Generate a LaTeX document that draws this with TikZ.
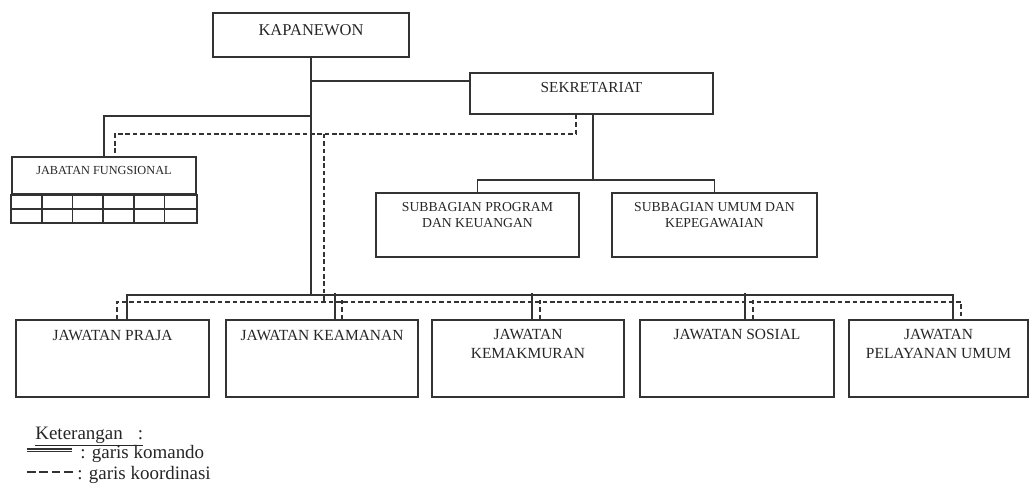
\documentclass[tikz,border=0pt]{standalone}
\usepackage{fontspec}
\setmainfont{Liberation Serif}
\usetikzlibrary{positioning}

\begin{document}
\begin{tikzpicture}
\tikzset{kotak/.style={draw=black!80, line width=1pt, inner sep=0pt},
  judul/.style={align=center, inner sep=0pt, text=black!85},
  komando/.style={draw=black!80, line width=1pt},
  koordinasi/.style={draw=black!80, line width=0.9pt, dash pattern=on 2.6pt off 1.6pt},
  ket/.style={anchor=base west, inner sep=0pt, text=black!85, font=\fontsize{10.8}{13}\selectfont}}
\useasboundingbox (0,0) rectangle (20.62,-9.68);
% kotak
\node[kotak, minimum width=3.92cm, minimum height=0.88cm] (kap) at (6.22,-0.70) {};
\node[kotak, minimum width=4.86cm, minimum height=0.82cm] (sek) at (11.83,-1.87) {};
\node[kotak, minimum width=3.68cm, minimum height=0.74cm] (jab) at (2.08,-3.51) {};
\node[kotak, minimum width=4.06cm, minimum height=1.28cm] (prog) at (9.55,-4.50) {};
\node[kotak, minimum width=4.10cm, minimum height=1.28cm] (umum) at (14.29,-4.50) {};
\node[kotak, minimum width=3.86cm, minimum height=1.54cm] (praja) at (2.25,-7.17) {};
\node[kotak, minimum width=3.84cm, minimum height=1.54cm] (keam) at (6.44,-7.17) {};
\node[kotak, minimum width=3.84cm, minimum height=1.54cm] (kemak) at (10.56,-7.17) {};
\node[kotak, minimum width=3.88cm, minimum height=1.54cm] (sosial) at (14.74,-7.17) {};
\node[kotak, minimum width=3.58cm, minimum height=1.54cm] (pelay) at (18.77,-7.17) {};
% tulisan
\node[judul, font=\fontsize{9.4}{11}\selectfont, below=0.24cm of kap.north] (kapT) {KAPANEWON};
\node[judul, font=\fontsize{8.7}{10.5}\selectfont, below=0.2cm of sek.north] (sekT) {SEKRETARIAT};
\node[judul, font=\fontsize{7}{8.4}\selectfont, below=0.2cm of jab.north] (jabT) {JABATAN FUNGSIONAL};
\node[judul, font=\fontsize{7.8}{9.1}\selectfont, below=0.2cm of prog.north] (progT) {SUBBAGIAN PROGRAM\\DAN KEUANGAN};
\node[judul, font=\fontsize{7.8}{9.1}\selectfont, below=0.2cm of umum.north] (umumT) {SUBBAGIAN UMUM DAN\\KEPEGAWAIAN};
\node[judul, font=\fontsize{8.8}{10.8}\selectfont, below=0.22cm of praja.north] (prajaT) {JAWATAN PRAJA};
\node[judul, font=\fontsize{8.8}{10.8}\selectfont, below=0.22cm of keam.north] (keamT) {JAWATAN KEAMANAN};
\node[judul, font=\fontsize{8.8}{10.8}\selectfont, below=0.2cm of kemak.north] (kemakT) {JAWATAN\\KEMAKMURAN};
\node[judul, font=\fontsize{8.8}{10.8}\selectfont, below=0.2cm of sosial.north] (sosialT) {JAWATAN SOSIAL};
\node[judul, font=\fontsize{8.8}{10.8}\selectfont, below=0.2cm of pelay.north] (pelayT) {JAWATAN\\PELAYANAN UMUM};
% petak jabatan fungsional
\draw[komando] (jab.south west) rectangle ([yshift=-0.56cm]jab.south east);
\draw[komando] ([yshift=-0.28cm]jab.south west) -- ([yshift=-0.28cm]jab.south east);
\foreach \i in {1,...,5}
  \draw[komando] ([xshift=\i*0.6133cm]jab.south west) -- ++(0,-0.56);
% garis komando
\coordinate (bus) at ([yshift=-4.74cm]kap.south);
\coordinate (sub) at ([xshift=0.03cm, yshift=-1.30cm]sek.south);
\draw[komando] (kap.south) -- (bus);
\draw[komando] ([yshift=0.25cm]sek.west) -| (kap.south);
\draw[komando] (jab.north) |- ([yshift=-1.16cm]kap.south);
\draw[komando] ([xshift=0.03cm]sek.south) -- (sub);
\draw[komando] (prog.north) |- (sub) -| (umum.north);
\draw[komando] ([xshift=0.29cm]praja.north) |- (bus) -| ([xshift=0.29cm]pelay.north);
\foreach \n/\s in {keam/0.26, kemak/0.08, sosial/0.16}
  \draw[komando] ([xshift=\s cm]\n.north) -- ++(0,0.52);
% garis koordinasi
\coordinate (koord) at ([xshift=0.26cm, yshift=-1.52cm]kap.south);
\coordinate (busk) at ([yshift=-3.36cm]koord);
\draw[koordinasi] ([xshift=-0.31cm]sek.south) |- (koord) -| ([xshift=0.22cm]jab.north);
\draw[koordinasi] (koord) -- (busk);
\draw[koordinasi] ([xshift=0.09cm]praja.north) |- (busk) -| ([xshift=0.45cm]pelay.north);
\foreach \n/\s in {keam/0.40, kemak/0.24, sosial/0.32}
  \draw[koordinasi] ([xshift=\s cm]\n.north) -- ++(0,0.38);
% keterangan
\coordinate (lk1) at (0.54,-9.00);
\coordinate (lk2) at (1.44,-9.00);
\coordinate (lo1) at (0.54,-9.44);
\coordinate (lo2) at (1.52,-9.44);
\node[ket] (ketT) at (0.70,-8.78) {\underline{Keterangan\hspace{0.3cm}:}};
\node[ket] (komT) at (1.60,-9.16) {: garis komando};
\node[ket] (koorT) at (1.54,-9.58) {: garis koordinasi};
\draw[komando, double, double distance=0.5pt, line width=0.7pt] (lk1) -- (lk2);
\draw[draw=black!80, line width=1.4pt, dash pattern=on 5pt off 2pt] (lo1) -- (lo2);
\end{tikzpicture}
\end{document}
